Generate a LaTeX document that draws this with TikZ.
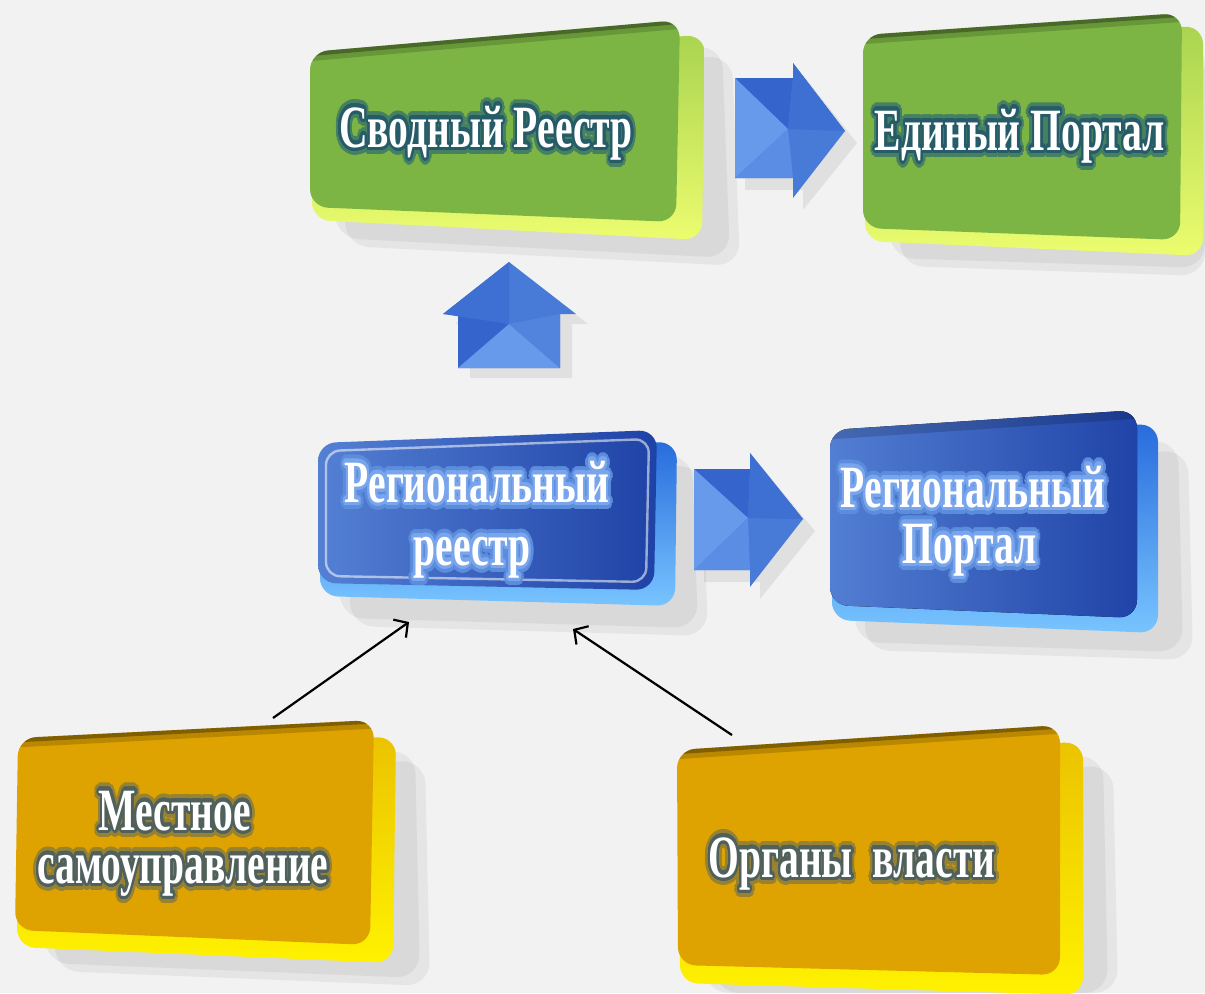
\documentclass[tikz,border=0pt]{standalone}
\usepackage{fontspec}
\setmainfont{Liberation Serif}
\usepackage{contour}
\usepackage{graphicx}
\usetikzlibrary{arrows.meta}

\definecolor{bg}{RGB}{242,242,242}
\definecolor{gFront}{RGB}{125,181,68}
\definecolor{gExtTop}{RGB}{170,212,80}
\definecolor{gExtBot}{RGB}{236,252,110}
\definecolor{gOuter}{RGB}{70,128,98}
\definecolor{gInner}{RGB}{38,92,104}
\definecolor{bFrontL}{RGB}{84,128,212}
\definecolor{bFrontR}{RGB}{30,66,166}
\definecolor{bExtTop}{RGB}{40,108,220}
\definecolor{bExtBot}{RGB}{120,196,255}
\definecolor{bOuter}{RGB}{92,140,220}
\definecolor{bInner}{RGB}{120,165,235}
\definecolor{oFront}{RGB}{222,163,0}
\definecolor{oExtTop}{RGB}{235,195,0}
\definecolor{oExtBot}{RGB}{255,242,0}
\definecolor{oOuter}{RGB}{150,130,50}
\definecolor{oInner}{RGB}{80,96,92}
\definecolor{arMid}{RGB}{72,122,216}
\definecolor{arLight}{RGB}{104,154,236}
\definecolor{arDark}{RGB}{52,100,204}

\contournumber{32}
\newcommand\txtglow[3]{\scalebox{0.66}[1]{\rlap{\contourlength{3.6pt}\contour{#1}{#3}}{\contourlength{1.7pt}\contour{#2}{#3}}}}

\tikzset{
  lbl/.style={text=white, font=\fontsize{30}{34}\selectfont\bfseries, inner sep=0pt, anchor=base},
  boxshadow/.style={fill=black, opacity=0.05, rounded corners=12pt},
  boxround/.style={rounded corners=9pt},
  lipwide/.style={line width=9pt, draw=black, opacity=0.16},
  lipnarrow/.style={line width=4pt, draw=black, opacity=0.3},
  thinarrow/.style={draw=black, line width=1.1pt, -{Straight Barb[length=5pt,width=11pt,line width=1.1pt]}},
}

\begin{document}
\begin{tikzpicture}[x=0.5pt,y=-0.5pt]
\fill[bg] (0,0) rectangle (1205,993);
\useasboundingbox (0,0) rectangle (1205,993);

% Сводный Реестр (green)
\fill[boxshadow] (335,80) -- (722,45) -- (730,258) -- (335,238) -- cycle;
\fill[boxshadow] (345,90) -- (732,55) -- (740,266) -- (345,246) -- cycle;
\path[boxround, top color=gExtTop, bottom color=gExtBot] (312,56) -- (705,35) -- (702,240) -- (312,220) -- cycle;
\begin{scope}
\clip[boxround] (310,52) -- (680,20) -- (676,222) -- (310,207) -- cycle;
\fill[gFront] (300,10) rectangle (690,230);
\draw[lipwide] (300,53) -- (690,19);
\draw[lipnarrow] (300,53) -- (690,19);
\end{scope}

% Единый Портал (green)
\fill[boxshadow] (890,65) -- (1205,40) -- (1205,268) -- (890,258) -- cycle;
\fill[boxshadow] (900,75) -- (1205,50) -- (1205,276) -- (900,266) -- cycle;
\path[boxround, top color=gExtTop, bottom color=gExtBot] (865,40) -- (1203,26) -- (1203,256) -- (865,241) -- cycle;
\begin{scope}
\clip[boxround] (863,35) -- (1182,13) -- (1180,240) -- (863,228) -- cycle;
\fill[gFront] (850,0) rectangle (1195,250);
\draw[lipwide] (850,36) -- (1195,12);
\draw[lipnarrow] (850,36) -- (1195,12);
\end{scope}

% Региональный реестр (blue)
\fill[boxshadow] (340,470) -- (692,455) -- (698,628) -- (340,618) -- cycle;
\fill[boxshadow] (350,480) -- (702,465) -- (708,636) -- (350,626) -- cycle;
\path[boxround, top color=bExtTop, bottom color=bExtBot] (320,447) -- (677,442) -- (675,606) -- (320,596) -- cycle;
\path[boxround, left color=bFrontL, right color=bFrontR] (318,443) -- (657,430) -- (654,590) -- (318,583) -- cycle;
\draw[rounded corners=7pt, draw=white, opacity=0.55, line width=1.2pt] (326,451) -- (649,439) -- (646,582) -- (326,576) -- cycle;

% Региональный Портал (blue)
\fill[boxshadow] (855,460) -- (1178,440) -- (1183,652) -- (855,642) -- cycle;
\fill[boxshadow] (865,470) -- (1188,450) -- (1193,660) -- (865,650) -- cycle;
\path[boxround, top color=bExtTop, bottom color=bExtBot] (832,435) -- (1158,424) -- (1158,633) -- (832,620) -- cycle;
\begin{scope}
\clip[boxround] (830,430) -- (1137,410) -- (1137,618) -- (830,605) -- cycle;
\fill[left color=bFrontL, right color=bFrontR] (820,400) rectangle (1147,628);
\draw[lipwide] (820,431) -- (1147,409);
\end{scope}

% Местное самоуправление (orange)
\fill[boxshadow] (45,770) -- (415,750) -- (420,978) -- (45,963) -- cycle;
\fill[boxshadow] (55,780) -- (425,760) -- (430,986) -- (55,971) -- cycle;
\path[boxround, top color=oExtTop, bottom color=oExtBot] (20,745) -- (396,737) -- (393,963) -- (17,947) -- cycle;
\begin{scope}
\clip[boxround] (18,738) -- (374,720) -- (370,945) -- (15,930) -- cycle;
\fill[oFront] (5,710) rectangle (385,955);
\draw[lipwide] (5,739) -- (385,719);
\draw[lipnarrow] (5,739) -- (385,719);
\end{scope}

% Органы власти (orange)
\fill[boxshadow] (705,780) -- (1103,755) -- (1108,993) -- (705,993) -- cycle;
\fill[boxshadow] (715,790) -- (1113,765) -- (1118,993) -- (715,993) -- cycle;
\path[boxround, top color=oExtTop, bottom color=oExtBot] (679,756) -- (1083,742) -- (1083,995) -- (680,983) -- cycle;
\begin{scope}
\clip[boxround] (677,750) -- (1060,725) -- (1060,975) -- (678,965) -- cycle;
\fill[oFront] (665,715) rectangle (1070,985);
\draw[lipwide] (665,751) -- (1070,724);
\draw[lipnarrow] (665,751) -- (1070,724);
\end{scope}

% ---------- block arrows ----------
% top right arrow
\fill[black, opacity=0.07] (745,90) -- (803,90) -- (803,75) -- (857,143) -- (803,210) -- (803,190) -- (745,190) -- cycle;
\coordinate (c1) at (788,129);
\fill[arMid] (735,78) -- (793,78) -- (793,63) -- (845,131) -- (793,198) -- (793,178) -- (735,178) -- cycle;
\fill[arDark] (735,78) -- (793,78) -- (c1) -- cycle;
\fill[arLight] (735,78) -- (c1) -- (735,178) -- cycle;
\fill[arLight!60!arMid] (735,178) -- (c1) -- (793,178) -- cycle;
\fill[arDark!50!arMid] (793,63) -- (845,131) -- (c1) -- (793,78) -- cycle;

% up arrow
\fill[black, opacity=0.07] (470,378) -- (470,324) -- (455,324) -- (521,272) -- (588,324) -- (572,324) -- (572,378) -- cycle;
\coordinate (c2) at (509,324);
\fill[arMid] (458,368) -- (458,314) -- (443,314) -- (509,262) -- (576,314) -- (560,314) -- (560,368) -- cycle;
\fill[arDark] (458,368) -- (458,314) -- (c2) -- cycle;
\fill[arLight] (458,368) -- (c2) -- (560,368) -- cycle;
\fill[arMid!70!arLight] (560,368) -- (c2) -- (560,314) -- cycle;
\fill[arDark!50!arMid] (443,314) -- (509,262) -- (c2) -- cycle;

% lower right arrow
\fill[black, opacity=0.07] (704,481) -- (760,481) -- (760,465) -- (815,531) -- (760,599) -- (760,582) -- (704,582) -- cycle;
\coordinate (c3) at (748,518);
\fill[arMid] (694,469) -- (750,469) -- (750,453) -- (803,519) -- (750,587) -- (750,570) -- (694,570) -- cycle;
\fill[arDark] (694,469) -- (750,469) -- (c3) -- cycle;
\fill[arLight] (694,469) -- (c3) -- (694,570) -- cycle;
\fill[arLight!60!arMid] (694,570) -- (c3) -- (750,570) -- cycle;
\fill[arDark!50!arMid] (750,453) -- (803,519) -- (c3) -- (750,469) -- cycle;

% ---------- labels ----------
\node[lbl] (svod) at (486,147) {\txtglow{gOuter}{gInner}{Сводный Реестр}};
\node[lbl] (edin) at (1020,150) {\txtglow{gOuter}{gInner}{Единый Портал}};
\node[lbl] (rr1) at (477,502) {\txtglow{bOuter}{bInner}{Региональный}};
\node[lbl] (rr2) at (472,565) {\txtglow{bOuter}{bInner}{реестр}};
\node[lbl] (rp1) at (973,507) {\txtglow{bOuter}{bInner}{Региональный}};
\node[lbl] (rp2) at (970,563) {\txtglow{bOuter}{bInner}{Портал}};
\node[lbl] (ms1) at (175,830) {\txtglow{oOuter}{oInner}{Местное}};
\node[lbl] (ms2) at (183,883) {\txtglow{oOuter}{oInner}{самоуправление}};
\node[lbl] (org) at (852,877) {\txtglow{oOuter}{oInner}{Органы\ \ власти}};

% ---------- thin connectors ----------
\coordinate (msTop) at (273,718);
\coordinate (rrIn1) at (409,622);
\coordinate (orgTop) at (732,735);
\coordinate (rrIn2) at (573,629);
\draw[thinarrow] (msTop) -- (rrIn1);
\draw[thinarrow] (orgTop) -- (rrIn2);
\end{tikzpicture}
\end{document}
